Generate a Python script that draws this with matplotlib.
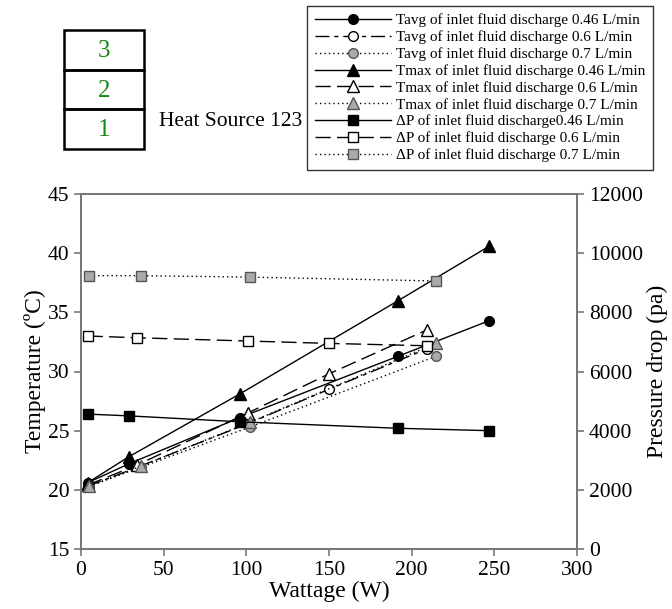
import matplotlib
matplotlib.use("Agg")
import matplotlib.pyplot as plt
from matplotlib.patches import Rectangle

# heater power (W) for each flow rate
watt_046 = [4, 29, 96, 192, 247]
watt_06 = [4, 34, 101, 150, 209]
watt_07 = [5, 36, 102, 215]

# temperatures (degC)
tavg_046 = [20.6, 22.2, 26.1, 31.3, 34.3]
tavg_06 = [20.3, 21.9, 25.6, 28.5, 31.9]
tavg_07 = [20.3, 21.9, 25.3, 31.3]
tmax_046 = [20.6, 22.8, 28.1, 36.0, 40.6]
tmax_06 = [20.4, 22.1, 26.5, 29.8, 33.5]
tmax_07 = [20.3, 22.0, 25.7, 32.4]

# pressure drop (Pa)
dp_046 = [4560, 4500, 4300, 4080, 4000]
dp_06 = [7200, 7140, 7030, 6950, 6870]
dp_07 = [9240, 9240, 9190, 9060]

stack_labels = ["1", "2", "3"]

plt.rcParams.update({
    "font.family": ["Liberation Serif", "DejaVu Serif"],
    "font.size": 15.5,
    "axes.edgecolor": "#777777",
    "axes.linewidth": 1.3,
    "xtick.color": "#777777",
    "ytick.color": "#777777",
    "xtick.labelcolor": "black",
    "ytick.labelcolor": "black",
    "xtick.major.size": 5,
    "ytick.major.size": 5,
    "xtick.major.width": 1.2,
    "ytick.major.width": 1.2,
})

GRAY = "#aaaaaa"
SOLID = "-"
DASH = (0, (11, 4.5))
DASHDOT = (0, (10, 3.5, 3, 3.5))
DOT = (0, (1, 2.2))

fig = plt.figure(figsize=(6.72, 6.09), dpi=100)
ax = fig.add_axes([81 / 672, 1 - 549 / 609, 496 / 672, 355 / 609])
ax2 = ax.twinx()

def series(axis, x, y, ls, marker, face, edge, label, ms=7):
    return axis.plot(x, y, linestyle=ls, color="black", linewidth=1.0,
                     marker=marker, markersize=ms, markerfacecolor=face,
                     markeredgecolor=edge, markeredgewidth=1.0, label=label)[0]

handles = [
    series(ax, watt_046, tavg_046, SOLID, "o", "black", "black",
           "Tavg of inlet fluid discharge 0.46 L/min"),
    series(ax, watt_06, tavg_06, DASHDOT, "o", "white", "black",
           "Tavg of inlet fluid discharge 0.6 L/min"),
    series(ax, watt_07, tavg_07, DOT, "o", GRAY, "#555555",
           "Tavg of inlet fluid discharge 0.7 L/min"),
    series(ax, watt_046, tmax_046, SOLID, "^", "black", "black",
           "Tmax of inlet fluid discharge 0.46 L/min", ms=8),
    series(ax, watt_06, tmax_06, DASH, "^", "white", "black",
           "Tmax of inlet fluid discharge 0.6 L/min", ms=8),
    series(ax, watt_07, tmax_07, DOT, "^", GRAY, "#555555",
           "Tmax of inlet fluid discharge 0.7 L/min", ms=8),
    series(ax2, watt_046, dp_046, SOLID, "s", "black", "black",
           "\u0394P of inlet fluid discharge0.46 L/min", ms=6.5),
    series(ax2, watt_06, dp_06, DASH, "s", "white", "black",
           "\u0394P of inlet fluid discharge 0.6 L/min", ms=6.5),
    series(ax2, watt_07, dp_07, DOT, "s", GRAY, "#555555",
           "\u0394P of inlet fluid discharge 0.7 L/min", ms=6.5),
]

ax.set_xlim(0, 300)
ax.set_ylim(15, 45)
ax.set_xticks(range(0, 301, 50))
ax.set_yticks(range(15, 46, 5))
ax2.set_ylim(0, 12000)
ax2.set_yticks(range(0, 12001, 2000))
ax.tick_params(direction="out", labelsize=15.5)
ax2.tick_params(direction="out", labelsize=15.5)
ax.set_xlabel("Wattage (W)", fontsize=17, labelpad=1)
ax.set_ylabel("Temperature (\u00baC)", fontsize=17, labelpad=1)
ax2.set_ylabel("Pressure drop (pa)", fontsize=17, labelpad=3)

leg = fig.legend(handles=handles, loc="upper left",
                 bbox_to_anchor=(307 / 672, 1 - 6 / 609),
                 fontsize=11, numpoints=1, handlelength=5.0,
                 handletextpad=0.35, labelspacing=0.2, borderpad=0.5,
                 fancybox=False, framealpha=1, edgecolor="#333333",
                 borderaxespad=0)
leg.get_frame().set_linewidth(1.0)

# stacked heat source sketch in the top-left corner
deco = fig.add_axes([0, 0, 1, 1], zorder=-1)
deco.set_xlim(0, 672)
deco.set_ylim(609, 0)
deco.axis("off")
box_top = 30
box_h = 39.7
for i, lab in enumerate(reversed(stack_labels)):
    y0 = box_top + i * box_h
    deco.add_patch(Rectangle((64, y0), 80, box_h, fill=False,
                             edgecolor="black", linewidth=1.8))
    deco.text(104, y0 + box_h / 2 + 1, lab, color="#138a13", fontsize=18,
              ha="center", va="center")
deco.text(159, 121, "Heat Source 123", fontsize=15.5, ha="left", va="center")

fig.savefig("out.png", dpi=100)
